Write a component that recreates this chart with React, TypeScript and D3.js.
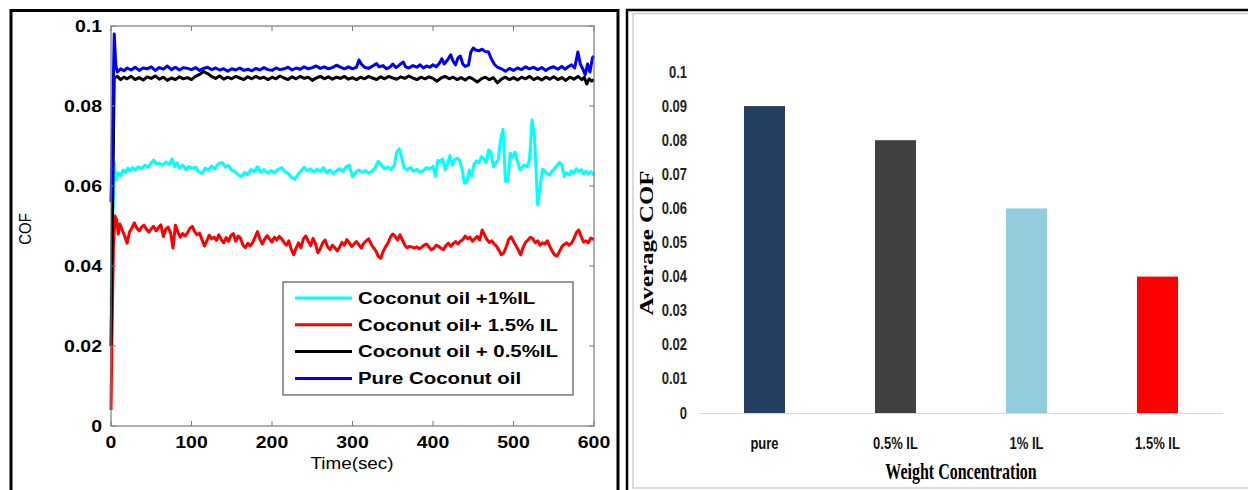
import React, { useEffect, useRef } from "react";
import * as d3 from "d3";

const W = 1248;
const H = 490;

// ---- left chart: COF vs time ----
const timeTicks = [0, 100, 200, 300, 400, 500, 600];
const cofTicks = [0, 0.02, 0.04, 0.06, 0.08, 0.1];
const seriesNames = ["Coconut oil +1%IL", "Coconut oil+ 1.5% IL", "Coconut oil + 0.5%IL", "Pure Coconut oil"];
const seriesColors = ["#00ffff", "#ff0000", "#000000", "#0000ff"];

const cyanSeries: [number, number][] = [
  [0, 0.03], [2, 0.05], [4, 0.066], [6, 0.0615], [9, 0.0633], [12, 0.0625], [15, 0.064], [18, 0.0634], [21, 0.0645], [24, 0.0638],
  [27, 0.0646], [30, 0.064], [34, 0.0648], [38, 0.0643], [42, 0.0652], [46, 0.0647], [50, 0.0658], [53, 0.0665], [56, 0.0655], [60, 0.0657],
  [64, 0.0652], [68, 0.066], [72, 0.0654], [76, 0.0668], [79, 0.0648], [82, 0.0658], [85, 0.0645], [89, 0.0652], [93, 0.0641], [97, 0.0649],
  [101, 0.0644], [105, 0.0647], [109, 0.0636], [113, 0.0631], [117, 0.0645], [121, 0.0639], [125, 0.065], [129, 0.0643], [133, 0.0655], [138, 0.0659],
  [142, 0.0647], [146, 0.0651], [150, 0.064], [154, 0.0636], [158, 0.0628], [162, 0.0624], [166, 0.0634], [170, 0.0629], [174, 0.0641], [178, 0.0636],
  [182, 0.0648], [186, 0.0634], [190, 0.0641], [195, 0.0632], [199, 0.0639], [203, 0.0633], [207, 0.0641], [212, 0.0646], [216, 0.0636], [220, 0.0631],
  [224, 0.0622], [228, 0.0617], [232, 0.0628], [236, 0.0638], [240, 0.0647], [244, 0.0638], [248, 0.0643], [252, 0.0635], [256, 0.0642], [260, 0.0637],
  [264, 0.0646], [268, 0.0633], [272, 0.064], [276, 0.0631], [280, 0.0638], [284, 0.0643], [288, 0.0637], [292, 0.0648], [296, 0.0652], [300, 0.0623],
  [304, 0.0635], [308, 0.064], [312, 0.0634], [316, 0.0639], [320, 0.0632], [324, 0.0637], [328, 0.0645], [332, 0.0662], [336, 0.0652], [340, 0.0643],
  [344, 0.0647], [348, 0.0641], [352, 0.0652], [355, 0.0685], [358, 0.0693], [361, 0.0672], [364, 0.0645], [368, 0.0641], [372, 0.0646], [376, 0.0637],
  [380, 0.0642], [384, 0.0634], [388, 0.0639], [392, 0.0646], [396, 0.0642], [400, 0.0649], [403, 0.0625], [406, 0.0664], [409, 0.0661], [412, 0.0668],
  [415, 0.0641], [418, 0.0656], [421, 0.0676], [424, 0.0652], [427, 0.0666], [430, 0.0669], [433, 0.0665], [436, 0.0643], [439, 0.0607], [442, 0.0609],
  [445, 0.064], [448, 0.0625], [451, 0.0655], [454, 0.0663], [457, 0.0658], [460, 0.0673], [463, 0.0668], [466, 0.0658], [469, 0.069], [472, 0.0684],
  [475, 0.0648], [478, 0.0658], [481, 0.0666], [484, 0.0716], [487, 0.0742], [490, 0.0612], [493, 0.0612], [496, 0.0682], [499, 0.0673], [502, 0.0685],
  [505, 0.066], [508, 0.0641], [511, 0.0648], [514, 0.0653], [517, 0.0648], [520, 0.0667], [523, 0.0765], [526, 0.0725], [528, 0.064], [530, 0.0553],
  [533, 0.0598], [536, 0.0642], [539, 0.0637], [542, 0.0631], [545, 0.0627], [548, 0.0638], [551, 0.0643], [554, 0.0652], [557, 0.0659], [560, 0.0652],
  [563, 0.0624], [566, 0.0633], [569, 0.0628], [572, 0.0638], [575, 0.0632], [578, 0.0643], [581, 0.0636], [584, 0.0641], [587, 0.0631], [590, 0.0637],
  [593, 0.063], [596, 0.0636], [600, 0.0627],
];

const redSeries: [number, number][] = [
  [0, 0.004], [1, 0.02], [3, 0.045], [5, 0.0525], [7, 0.0515], [9, 0.048], [11, 0.0505], [14, 0.049], [17, 0.0475], [20, 0.0457],
  [23, 0.0485], [26, 0.0495], [29, 0.0508], [32, 0.0495], [35, 0.0488], [38, 0.0497], [41, 0.0502], [44, 0.0492], [47, 0.0485], [50, 0.0493],
  [53, 0.0499], [56, 0.0488], [59, 0.0496], [62, 0.0503], [65, 0.0474], [68, 0.0492], [71, 0.0497], [74, 0.0483], [77, 0.0445], [80, 0.0502],
  [83, 0.0485], [86, 0.0472], [89, 0.0481], [92, 0.0475], [95, 0.0483], [98, 0.0494], [101, 0.0499], [104, 0.0486], [107, 0.0478], [110, 0.0482],
  [113, 0.0466], [116, 0.045], [119, 0.0463], [122, 0.0477], [125, 0.0468], [128, 0.0472], [131, 0.0464], [134, 0.0478], [137, 0.0466], [140, 0.0458],
  [143, 0.0471], [146, 0.0462], [149, 0.0476], [152, 0.0481], [155, 0.0462], [158, 0.0475], [161, 0.0469], [164, 0.0452], [167, 0.0446], [170, 0.0457],
  [173, 0.045], [176, 0.0459], [179, 0.0472], [182, 0.0486], [185, 0.0467], [188, 0.0455], [191, 0.0468], [194, 0.0476], [197, 0.0468], [200, 0.046],
  [203, 0.0472], [206, 0.0465], [209, 0.0474], [212, 0.0468], [215, 0.0459], [218, 0.0452], [221, 0.0463], [224, 0.0441], [227, 0.0428], [230, 0.0445],
  [233, 0.0458], [236, 0.0446], [239, 0.0468], [242, 0.0475], [245, 0.0462], [248, 0.0451], [251, 0.0469], [254, 0.0456], [257, 0.0433], [260, 0.0443],
  [263, 0.0458], [266, 0.0465], [269, 0.0448], [272, 0.0441], [275, 0.0452], [278, 0.0446], [281, 0.0438], [284, 0.0447], [287, 0.0459], [290, 0.0452],
  [293, 0.0466], [296, 0.0458], [299, 0.0449], [302, 0.0455], [305, 0.0461], [308, 0.0453], [311, 0.0445], [314, 0.0457], [317, 0.0463], [320, 0.0468],
  [323, 0.0455], [326, 0.0446], [329, 0.0438], [332, 0.0424], [335, 0.0419], [338, 0.0436], [341, 0.0448], [344, 0.0457], [347, 0.0472], [350, 0.048],
  [353, 0.0474], [356, 0.0465], [359, 0.0478], [362, 0.0465], [365, 0.0452], [368, 0.0446], [371, 0.0449], [374, 0.0447], [377, 0.0445], [380, 0.0448],
  [383, 0.0443], [386, 0.0447], [389, 0.0452], [392, 0.0455], [395, 0.0447], [398, 0.0441], [401, 0.0444], [404, 0.0452], [407, 0.0449], [410, 0.0444],
  [413, 0.0441], [416, 0.0451], [419, 0.0457], [422, 0.0449], [425, 0.0456], [428, 0.0461], [431, 0.0455], [434, 0.0462], [437, 0.0466], [440, 0.0475],
  [443, 0.0468], [446, 0.0472], [449, 0.0462], [452, 0.0468], [455, 0.0474], [458, 0.0465], [461, 0.049], [464, 0.0478], [467, 0.0466], [470, 0.0459],
  [473, 0.0463], [476, 0.0455], [479, 0.0449], [482, 0.0439], [485, 0.0428], [488, 0.0433], [491, 0.0448], [494, 0.0466], [497, 0.0473], [500, 0.0462],
  [503, 0.0451], [506, 0.044], [509, 0.0428], [512, 0.0447], [515, 0.0459], [518, 0.0465], [521, 0.0472], [524, 0.0468], [527, 0.0458], [530, 0.0463],
  [533, 0.0452], [536, 0.0458], [539, 0.0455], [542, 0.0463], [545, 0.0449], [548, 0.0437], [551, 0.0428], [554, 0.0425], [557, 0.0436], [560, 0.0448],
  [563, 0.0454], [566, 0.0458], [569, 0.0452], [572, 0.0457], [575, 0.0468], [578, 0.0483], [581, 0.049], [584, 0.0474], [587, 0.046], [590, 0.0463],
  [593, 0.0458], [596, 0.047], [600, 0.0466],
];

const blackSeries: [number, number][] = [
  [0, 0.02], [2, 0.055], [4, 0.087], [8, 0.0874], [12, 0.0866], [16, 0.0872], [20, 0.0868], [25, 0.0874], [30, 0.0866], [35, 0.0871],
  [40, 0.0865], [45, 0.0873], [50, 0.0869], [55, 0.0875], [60, 0.0867], [65, 0.0872], [70, 0.0864], [75, 0.087], [80, 0.0866], [85, 0.0873],
  [90, 0.0868], [95, 0.0871], [100, 0.0866], [105, 0.0874], [110, 0.0879], [115, 0.0886], [120, 0.0881], [125, 0.0874], [130, 0.0869], [135, 0.0875],
  [140, 0.0867], [145, 0.0872], [150, 0.0868], [155, 0.0874], [160, 0.087], [165, 0.0866], [170, 0.0873], [175, 0.0868], [180, 0.0874], [185, 0.0869],
  [190, 0.0872], [195, 0.0866], [200, 0.0872], [205, 0.0868], [210, 0.0875], [215, 0.087], [220, 0.0866], [225, 0.0873], [230, 0.0868], [235, 0.0874],
  [240, 0.0869], [245, 0.0872], [250, 0.0864], [255, 0.087], [260, 0.0874], [265, 0.0868], [270, 0.0873], [275, 0.0867], [280, 0.0872], [285, 0.0869],
  [290, 0.0874], [295, 0.0867], [300, 0.0871], [305, 0.0866], [310, 0.0872], [315, 0.0868], [320, 0.0874], [325, 0.087], [330, 0.0866], [335, 0.0873],
  [340, 0.0868], [345, 0.0874], [350, 0.087], [355, 0.0867], [360, 0.0873], [365, 0.0869], [370, 0.0875], [375, 0.087], [380, 0.0866], [385, 0.0872],
  [390, 0.0868], [395, 0.0873], [400, 0.0869], [405, 0.0862], [410, 0.087], [415, 0.0874], [420, 0.0868], [425, 0.0872], [430, 0.0866], [435, 0.0871],
  [440, 0.0865], [445, 0.0872], [450, 0.0867], [455, 0.086], [460, 0.0868], [465, 0.0872], [470, 0.0866], [475, 0.0871], [480, 0.0858], [485, 0.0867],
  [490, 0.0872], [495, 0.0866], [500, 0.0871], [505, 0.0865], [510, 0.0872], [515, 0.0868], [520, 0.0874], [525, 0.0866], [530, 0.0871], [535, 0.0865],
  [540, 0.0872], [545, 0.0867], [550, 0.0873], [555, 0.0866], [560, 0.0871], [565, 0.0864], [570, 0.0872], [575, 0.0867], [580, 0.0874], [585, 0.0866],
  [588, 0.0872], [591, 0.0855], [594, 0.0868], [597, 0.0862], [600, 0.0866],
];

const blueSeries: [number, number][] = [
  [0, 0.056], [2, 0.075], [4, 0.098], [6, 0.09], [8, 0.0885], [12, 0.0893], [16, 0.0888], [20, 0.0895], [25, 0.089], [30, 0.0897],
  [35, 0.0889], [40, 0.0895], [45, 0.0893], [50, 0.0898], [55, 0.0889], [60, 0.0896], [65, 0.0892], [70, 0.09], [75, 0.0891], [80, 0.0897],
  [85, 0.089], [90, 0.0896], [95, 0.0894], [100, 0.0891], [105, 0.0896], [110, 0.0889], [115, 0.0894], [120, 0.0897], [125, 0.0891], [130, 0.0895],
  [135, 0.089], [140, 0.0893], [145, 0.0887], [150, 0.0893], [155, 0.089], [160, 0.0895], [165, 0.0889], [170, 0.0892], [175, 0.0888], [180, 0.0894],
  [185, 0.089], [190, 0.0896], [195, 0.0891], [200, 0.0889], [205, 0.0895], [210, 0.0891], [215, 0.0893], [220, 0.0897], [225, 0.089], [230, 0.0895],
  [235, 0.0892], [240, 0.0898], [245, 0.0893], [250, 0.0896], [255, 0.09], [260, 0.0894], [265, 0.0898], [270, 0.0893], [275, 0.0896], [280, 0.0902],
  [285, 0.0897], [290, 0.0893], [295, 0.0898], [300, 0.0893], [305, 0.0897], [308, 0.0915], [311, 0.0905], [315, 0.0897], [320, 0.0894], [325, 0.09],
  [330, 0.0906], [333, 0.0898], [338, 0.0901], [342, 0.0893], [347, 0.0898], [350, 0.0905], [354, 0.0896], [358, 0.0902], [363, 0.091], [366, 0.0898],
  [370, 0.0895], [375, 0.0901], [380, 0.0897], [384, 0.0903], [388, 0.0895], [392, 0.09], [396, 0.0897], [400, 0.0903], [404, 0.0898], [408, 0.0907],
  [411, 0.0918], [414, 0.0905], [418, 0.0915], [422, 0.0928], [425, 0.0912], [428, 0.0903], [431, 0.092], [434, 0.0925], [437, 0.0905], [440, 0.0899],
  [444, 0.0902], [447, 0.0935], [450, 0.0945], [453, 0.094], [457, 0.0938], [461, 0.0942], [465, 0.0936], [469, 0.0935], [472, 0.092], [476, 0.0905],
  [480, 0.0897], [485, 0.0893], [490, 0.0887], [495, 0.0894], [500, 0.0889], [505, 0.0895], [510, 0.0891], [515, 0.0898], [520, 0.0893], [525, 0.0897],
  [530, 0.0891], [535, 0.0896], [540, 0.0889], [545, 0.0895], [550, 0.0898], [555, 0.0892], [560, 0.0899], [564, 0.0892], [568, 0.0898], [572, 0.0903],
  [576, 0.0895], [580, 0.0935], [583, 0.0905], [586, 0.0893], [589, 0.0878], [592, 0.0905], [595, 0.0885], [598, 0.092], [600, 0.0925],
];

const allSeries = [cyanSeries, redSeries, blackSeries, blueSeries];

// ---- right chart: average COF bars ----
const barCategories = ["pure", "0.5% IL", "1% IL", "1.5% IL"];
const barValues = [0.09, 0.08, 0.06, 0.04];
const barColors = ["#243f60", "#404040", "#93cddd", "#ff0000"];
const barTicks = [0, 0.01, 0.02, 0.03, 0.04, 0.05, 0.06, 0.07, 0.08, 0.09, 0.1];

const ARIAL = "'Liberation Sans', Arial, sans-serif";
const TIMES = "'Liberation Serif', 'Times New Roman', serif";

type Sel = d3.Selection<SVGGElement, unknown, null, undefined>;

// text with a non-uniform stretch (the source picture is distorted)
function label(g: Sel, x: number, y: number, s: string, o: any) {
  const t = g
    .append("text")
    .attr("transform", `translate(${x},${y})${o.rotate ? ` rotate(${o.rotate})` : ""} scale(${o.sx || 1},${o.sy || 1})`)
    .attr("text-anchor", o.anchor || "middle")
    .attr("dominant-baseline", "central")
    .attr("font-family", o.family || ARIAL)
    .attr("font-size", o.size)
    .attr("font-weight", o.weight || "normal")
    .attr("fill", o.fill || "#000")
    .text(s);
  return t;
}

function drawLeft(g: Sel) {
  const x = d3.scaleLinear().domain([0, 600]).range([111, 594]);
  const y = d3.scaleLinear().domain([0, 0.1]).range([426, 26]);

  // frame of the left panel
  g.append("rect").attr("x", 11).attr("y", 10.5).attr("width", 607).attr("height", 490)
    .attr("fill", "none").attr("stroke", "#000").attr("stroke-width", 3);

  const lineGen = d3.line<[number, number]>().x((d) => x(d[0])).y((d) => y(d[1]));
  allSeries.forEach((s, i) => {
    g.append("path").attr("d", lineGen(s)).attr("fill", "none")
      .attr("stroke", seriesColors[i]).attr("stroke-width", 3).attr("stroke-linejoin", "round");
  });

  // axes box with inward ticks on all sides
  const axCol = "#7a7a7a";
  g.append("rect").attr("x", x(0)).attr("y", y(0.1)).attr("width", x(600) - x(0)).attr("height", y(0) - y(0.1))
    .attr("fill", "none").attr("stroke", axCol).attr("stroke-width", 1.2);
  timeTicks.forEach((t) => {
    g.append("line").attr("x1", x(t)).attr("x2", x(t)).attr("y1", y(0)).attr("y2", y(0) - 5).attr("stroke", axCol);
    g.append("line").attr("x1", x(t)).attr("x2", x(t)).attr("y1", y(0.1)).attr("y2", y(0.1) + 5).attr("stroke", axCol);
    label(g, x(t), 443, String(t), { size: 16.5, weight: "bold", sx: 1.18 });
  });
  cofTicks.forEach((v) => {
    g.append("line").attr("x1", x(0)).attr("x2", x(0) + 5).attr("y1", y(v)).attr("y2", y(v)).attr("stroke", axCol);
    g.append("line").attr("x1", x(600)).attr("x2", x(600) - 5).attr("y1", y(v)).attr("y2", y(v)).attr("stroke", axCol);
    label(g, 102, y(v) + 1, String(+v.toFixed(2)), { size: 16.5, weight: "bold", sx: 1.18, anchor: "end" });
  });
  label(g, 352, 464, "Time(sec)", { size: 16, sx: 1.18 });
  label(g, 25, 229, "COF", { size: 15, rotate: -90, sy: 1.15 });

  // legend
  const lg = g.append("g");
  lg.append("rect").attr("x", 283).attr("y", 282).attr("width", 290).attr("height", 113)
    .attr("fill", "#fff").attr("stroke", "#555").attr("stroke-width", 1.2);
  seriesNames.forEach((n, i) => {
    const yy = 298 + i * 26.8;
    lg.append("line").attr("x1", 295).attr("x2", 352).attr("y1", yy).attr("y2", yy)
      .attr("stroke", seriesColors[i]).attr("stroke-width", 3);
    label(lg as any, 358, yy, n, { size: 17, weight: "bold", sx: 1.2, anchor: "start" });
  });
}

function drawRight(g: Sel) {
  // panel frames
  g.append("rect").attr("x", 627).attr("y", 10).attr("width", 640).attr("height", 500)
    .attr("fill", "none").attr("stroke", "#000").attr("stroke-width", 2.5);
  g.append("rect").attr("x", 633).attr("y", 13.5).attr("width", 630).attr("height", 474.5)
    .attr("fill", "none").attr("stroke", "#cfcfcf").attr("stroke-width", 1.5);

  const x = d3.scaleBand().domain(barCategories).range([699, 1223]).paddingInner(0.687).paddingOuter(0.3435);
  const y = d3.scaleLinear().domain([0, 0.1]).range([413, 72]);

  barTicks.forEach((v) => {
    label(g, 687, y(v), String(+v.toFixed(2)), { size: 13, weight: "bold", sy: 1.25, anchor: "end", fill: "#222" });
  });

  g.selectAll("rect.bar").data(barCategories).join("rect").attr("class", "bar")
    .attr("x", (d) => x(d) as number).attr("width", x.bandwidth())
    .attr("y", (d, i) => y(barValues[i])).attr("height", (d, i) => y(0) - y(barValues[i]))
    .attr("fill", (d, i) => barColors[i]);

  g.append("line").attr("x1", 699).attr("x2", 1223).attr("y1", y(0) + 0.5).attr("y2", y(0) + 0.5)
    .attr("stroke", "#d9d9d9").attr("stroke-width", 1.2);

  barCategories.forEach((c) => {
    label(g, (x(c) as number) + x.bandwidth() / 2, 443, c, { size: 13, weight: "bold", sy: 1.3, fill: "#111" });
  });

  label(g, 961, 472, "Weight Concentration", { size: 16, weight: "bold", family: TIMES, sy: 1.4 });
  label(g, 647, 243, "Average COF", { size: 18, weight: "bold", family: TIMES, rotate: -90, sx: 1.38 });
}

const App = () => {
  const ref = useRef<SVGSVGElement>(null);
  useEffect(() => {
    const svg = d3.select(ref.current);
    svg.selectAll("*").remove();
    svg.append("rect").attr("width", W).attr("height", H).attr("fill", "#fff");
    drawLeft(svg.append("g") as any);
    drawRight(svg.append("g") as any);
  }, []);
  return (
    <svg
      ref={ref}
      width={W}
      height={H}
      style={{ position: "absolute", left: 0, top: 0, display: "block" }}
    ></svg>
  );
};

export default App;
